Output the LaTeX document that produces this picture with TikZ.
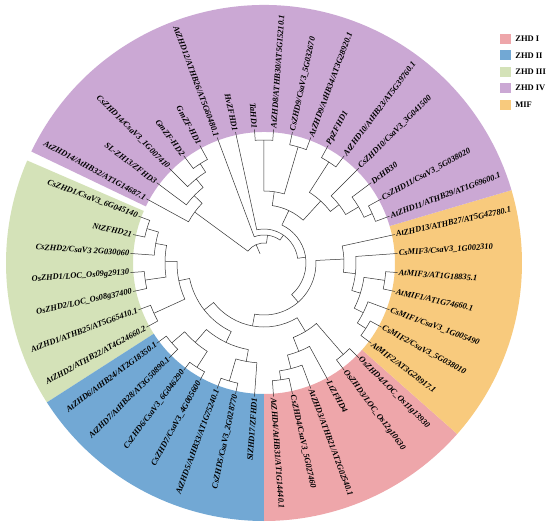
\documentclass[tikz,border=0pt]{standalone}
\usepackage{fontspec}
\setmainfont{Liberation Serif}
\usepackage{tikz}
\usetikzlibrary{positioning}

\definecolor{zhdone}{RGB}{238,166,170}
\definecolor{zhdtwo}{RGB}{114,168,212}
\definecolor{zhdthree}{RGB}{212,226,184}
\definecolor{zhdfour}{RGB}{203,168,212}
\definecolor{mifcol}{RGB}{248,202,125}

% angle and radius of every tree node
\newcommand{\setbranch}[3]{%
  \expandafter\xdef\csname brA#1\endcsname{#2}%
  \expandafter\xdef\csname brR#1\endcsname{#3}}

% leaf number, label
\newcommand{\putleaf}[2]{%
  \pgfmathsetmacro\la{-90+(#1+0.5)*360/44-(#1>29)*360}%
  \ifnum#1>21
    \node[leaflabel, anchor=east, rotate=\la+180] (l#1) at (\la:134pt) {#2};
  \else
    \node[leaflabel, anchor=west, rotate=\la] (l#1) at (\la:134pt) {#2};
  \fi
  \setbranch{l#1}{\la}{134}}

% new node, child a, child b, radius
\newcommand{\cladejoin}[4]{%
  \edef\cja{\csname brA#2\endcsname}%
  \edef\cjb{\csname brA#3\endcsname}%
  \edef\cra{\csname brR#2\endcsname}%
  \edef\crb{\csname brR#3\endcsname}%
  \pgfmathsetmacro\cjm{(\cja+\cjb)/2}%
  \draw[branch] (\cja:\cra pt) -- (\cja:#4pt) arc[start angle=\cja, end angle=\cjb, radius=#4pt] -- (\cjb:\crb pt);%
  \setbranch{#1}{\cjm}{#4}}

\newcommand{\ringpart}[3]{%
  \fill[#1] (#2:131pt) arc[start angle=#2, end angle=#3, radius=131pt]
    -- (#3:258pt) arc[start angle=#3, end angle=#2, radius=258pt] -- cycle;}

\begin{document}
\begin{tikzpicture}[
    branch/.style={draw=black!80, line width=0.5pt},
    leaflabel/.style={inner sep=1pt, font=\fontsize{8.4}{10}\selectfont\bfseries\itshape},
    keybox/.style={minimum width=11pt, minimum height=10pt, inner sep=0pt},
    keytext/.style={inner sep=1pt, font=\fontsize{8.5}{10}\selectfont\bfseries}
]
\useasboundingbox (-264pt,-265pt) rectangle (286pt,263pt);
\fill[white] (-264pt,-265pt) rectangle (286pt,263pt);

% coloured groups
\ringpart{zhdone}{-90}{-41.5}
\ringpart{mifcol}{-41.5}{16.4}
\ringpart{zhdfour}{16.4}{154.4}
\ringpart{zhdthree}{156.6}{212.7}
\ringpart{zhdtwo}{212.7}{270}

% leaves
\putleaf{0}{AtZHD4/AtHB31/AT1G14440.1}
\putleaf{1}{CsZHD4/CsaV3\_5G027460}
\putleaf{2}{AtZHD3/ATHB21/AT2G02540.1}
\putleaf{3}{LtZFHD4}
\putleaf{4}{OsZHD3/LOC\_Os12g10630}
\putleaf{5}{OsZHD4/LOC\_Os11g13930}
\putleaf{6}{AtMIF2/AT3G28917.1}
\putleaf{7}{CsMIF2/CsaV3\_5G038010}
\putleaf{8}{CsMIF1/CsaV3\_1G005490}
\putleaf{9}{AtMIF1/AT1G74660.1}
\putleaf{10}{AtMIF3/AT1G18835.1}
\putleaf{11}{CsMIF3/CsaV3\_1G002310}
\putleaf{12}{AtZHD13/ATHB27/AT5G42780.1}
\putleaf{13}{AtZHD11/ATHB29/AT1G69600.1}
\putleaf{14}{CsZHD11/CsaV3\_5G038020}
\putleaf{15}{DcHB30}
\putleaf{16}{CsZHD10/CsaV3\_3G041500}
\putleaf{17}{AtZHD10/AtHB23/AT5G39760.1}
\putleaf{18}{PpZFHD1}
\putleaf{19}{AtZHD9/AtHB34/AT3G28920.1}
\putleaf{20}{CsZHD9/CsaV3\_5G032670}
\putleaf{21}{AtZHD8/ATHB30/AT5G15210.1}
\putleaf{22}{TaHD1}
\putleaf{23}{HvZFHD1}
\putleaf{24}{AtZHD12/ATHB26/AT5G60480.1}
\putleaf{25}{GmZF-HD1}
\putleaf{26}{GmZF-HD2}
\putleaf{27}{CsZHD14/CsaV3\_1G007410}
\putleaf{28}{SL-ZH13/ZFHD3}
\putleaf{29}{AtZHD14/AtHB32/AT1G14687.1}
\putleaf{30}{CsZHD1/CsaV3\_6G045140}
\putleaf{31}{NtZFHD21}
\putleaf{32}{CsZHD2/CsaV3 2G030060}
\putleaf{33}{OsZHD1/LOC\_Os09g29130}
\putleaf{34}{OsZHD2/LOC\_Os08g37400}
\putleaf{35}{AtZHD1/ATHB25/AT5G65410.1}
\putleaf{36}{AtZHD2/ATHB22/AT4G24660.2}
\putleaf{37}{AtZHD6/AtHB24/AT2G18350.1}
\putleaf{38}{AtZHD7/AtHB28/AT3G50890.1}
\putleaf{39}{CsZHD6/CsaV3\_6G046290}
\putleaf{40}{CsZHD7/CsaV3\_4G005600}
\putleaf{41}{AtZHD5/AtHB33/AT1G75240.1}
\putleaf{42}{CsZHD5/CsaV3\_2G028770}
\putleaf{43}{SlZHD17/ZFHD1}

% ZHD IV
\cladejoin{Pa}{l13}{l14}{119}
\cladejoin{Pb}{Pa}{l15}{110}
\cladejoin{Pc}{Pb}{l16}{95}
\cladejoin{Pd}{l17}{l18}{120}
\cladejoin{Pe}{Pc}{Pd}{84}
\cladejoin{Pf}{l19}{l20}{121}
\cladejoin{Pg}{l21}{l22}{123}
\cladejoin{Ph}{Pf}{Pg}{72}
\cladejoin{Pi}{Pe}{Ph}{58}
\cladejoin{Ga}{l25}{l26}{118}
\cladejoin{Gb}{Ga}{l27}{108}
\cladejoin{Gc}{Gb}{l28}{97}
\cladejoin{Gd}{Gc}{l29}{86}
% MIF
\cladejoin{Ma}{l9}{l10}{122}
\cladejoin{Mb}{l6}{l7}{121}
\cladejoin{Mc}{Mb}{l8}{111}
\cladejoin{Md}{Mc}{Ma}{101}
\cladejoin{Me}{Md}{l11}{92}
\cladejoin{Mf}{Me}{l12}{80}
% ZHD I
\cladejoin{Ka}{l0}{l1}{118}
\cladejoin{Kb}{Ka}{l2}{109}
\cladejoin{Kc}{Kb}{l3}{95}
\cladejoin{Kd}{l4}{l5}{121}
\cladejoin{Ke}{Kc}{Kd}{80}
% ZHD III
\cladejoin{Ra}{l30}{l31}{122}
\cladejoin{Rb}{Ra}{l32}{110}
\cladejoin{Rc}{l33}{l34}{120}
\cladejoin{Rd}{Rb}{Rc}{99}
\cladejoin{Re}{l35}{l36}{121}
\cladejoin{Rf}{Rd}{Re}{87}
% ZHD II
\cladejoin{Ba}{l37}{l38}{122}
\cladejoin{Bb}{l39}{l40}{124}
\cladejoin{Bc}{Ba}{Bb}{105}
\cladejoin{Bd}{l41}{l42}{123}
\cladejoin{Be}{Bd}{l43}{100}
\cladejoin{Bf}{Bc}{Be}{88}
% backbone
\cladejoin{BG}{Rf}{Bf}{76}
\cladejoin{T}{BG}{Ke}{64}
\cladejoin{S}{T}{Mf}{52}
\cladejoin{Qc}{S}{Pi}{42}
\cladejoin{Qb}{Qc}{l23}{34}
\cladejoin{Qa}{Qb}{l24}{28}
\cladejoin{Root}{Qa}{Gd}{20}
\draw[branch] (\csname brARoot\endcsname:20pt) -- (\csname brARoot\endcsname:10pt);

% legend
\node[keybox, fill=zhdone] (keyone) at (241.5pt,224pt) {};
\node[keytext, right=3pt of keyone] {ZHD I};
\node[keybox, fill=zhdtwo, below=6pt of keyone] (keytwo) {};
\node[keytext, right=3pt of keytwo] {ZHD II};
\node[keybox, fill=zhdthree, below=6pt of keytwo] (keythree) {};
\node[keytext, right=3pt of keythree] {ZHD III};
\node[keybox, fill=zhdfour, below=6pt of keythree] (keyfour) {};
\node[keytext, right=3pt of keyfour] {ZHD IV};
\node[keybox, fill=mifcol, below=6pt of keyfour] (keymif) {};
\node[keytext, right=3pt of keymif] {MIF};

\end{tikzpicture}
\end{document}
